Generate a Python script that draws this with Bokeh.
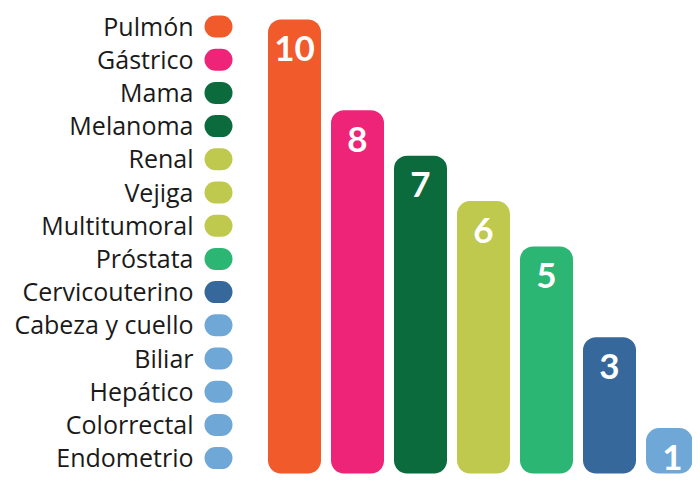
from bokeh.plotting import figure
from bokeh.models import Range1d, ColumnDataSource
from bokeh.embed import file_html
from bokeh.resources import INLINE
from bokeh.core.properties import value

# ---- data ----
categories = ["Pulmón", "Gástrico", "Mama", "Melanoma", "Renal", "Vejiga",
              "Multitumoral", "Próstata", "Cervicouterino", "Cabeza y cuello",
              "Biliar", "Hepático", "Colorrectal", "Endometrio"]
category_colors = ["#F15A2B", "#EE2479", "#0C6B3C", "#0C6B3C", "#BFC94D", "#BFC94D",
                   "#BFC94D", "#2BB673", "#36689C", "#6FA8D6",
                   "#6FA8D6", "#6FA8D6", "#6FA8D6", "#6FA8D6"]
bar_values = [10, 8, 7, 6, 5, 3, 1]
bar_labels = ["10", "8", "7", "6", "5", "3", "1"]
bar_colors = ["#F15A2B", "#EE2479", "#0C6B3C", "#BFC94D", "#2BB673", "#36689C", "#6FA8D6"]

W, H = 692, 476
bar_px = 63.0          # pixels per bar slot
first_center = 294.0   # pixel of first bar center
unit_px = 45.4         # pixels per value unit
base_px = 3.0          # baseline above bottom

x_start = -first_center / bar_px
x_end = (W - first_center) / bar_px
y_start = -base_px / unit_px
y_end = (H - base_px) / unit_px

p = figure(width=W, height=H, output_backend="svg", toolbar_location=None,
           x_range=Range1d(x_start, x_end), y_range=Range1d(y_start, y_end),
           min_border=0, background_fill_color="white", border_fill_color="white")
p.axis.visible = False
p.grid.visible = False
p.outline_line_color = None

# legend coordinate system: x in pixels, y in rows
row_px = 33.2
row0_px = 26.0
p.extra_x_ranges = {"px": Range1d(0, W)}
p.extra_y_ranges = {"rows": Range1d((H - row0_px) / row_px, -row0_px / row_px)}

bars = ColumnDataSource(dict(x=list(range(len(bar_values))), top=bar_values,
                             color=bar_colors, label=bar_labels))
p.vbar(x="x", top="top", bottom=0, width=53 / bar_px, fill_color="color",
       line_color=None, border_radius=13, source=bars)
p.text(x="x", y="top", text="label", source=bars, text_color="white",
       text_font=value("Lato"), text_font_style="bold", text_font_size="35px",
       text_align="center", text_baseline="middle", y_offset=29)

leg = ColumnDataSource(dict(row=list(range(len(categories))), name=categories,
                            color=category_colors,
                            tx=[193] * len(categories),
                            mx=[218] * len(categories)))
p.text(x="tx", y="row", text="name", source=leg, x_range_name="px", y_range_name="rows",
       text_color="#1a1a1a", text_font=value("Open Sans"), text_font_size="25px",
       text_align="right", text_baseline="middle", y_offset=-1)
p.rect(x="mx", y="row", width=28, height=22, width_units="screen", height_units="screen",
       fill_color="color", line_color=None, border_radius=11, source=leg,
       x_range_name="px", y_range_name="rows")

open("out.html", "w").write(file_html(p, INLINE))
